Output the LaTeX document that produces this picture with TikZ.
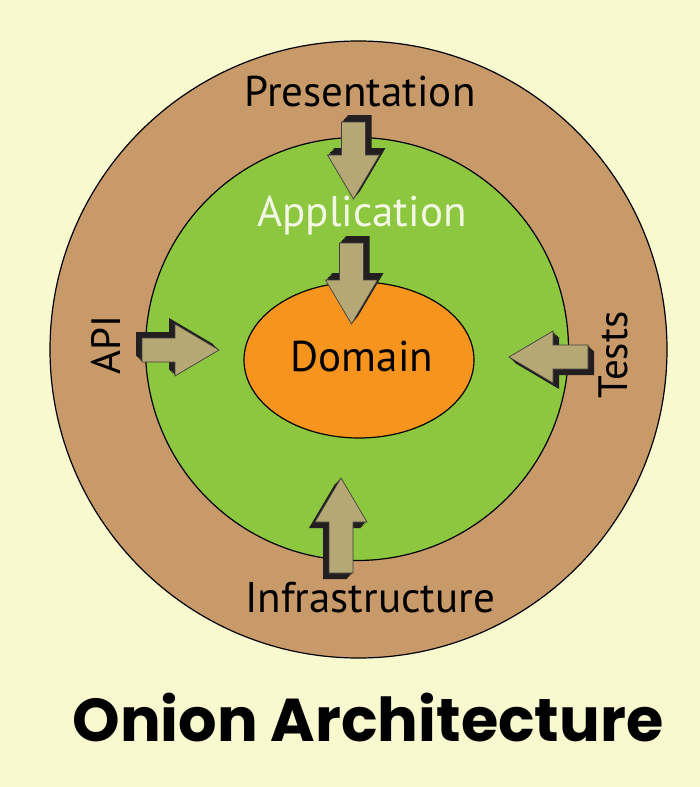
\documentclass[tikz,border=0pt]{standalone}
\usepackage{fontspec}
\setmainfont{PT Sans}
\newfontfamily\titlefont{Poppins}
\usepackage{tikz}
\usetikzlibrary{shapes.geometric}

\definecolor{bgyellow}{HTML}{F9F9D0}
\definecolor{ringtan}{HTML}{C89A6A}
\definecolor{appgreen}{HTML}{8DC63F}
\definecolor{domorange}{HTML}{F7941D}
\definecolor{arrowkhaki}{HTML}{B5A874}
\definecolor{shadowdark}{HTML}{231F20}
\definecolor{apptext}{HTML}{F2F8E4}

% block arrow pointing along +x, tail at the origin
\newcommand{\arrowpath}[1]{(0,-12) -- (#1,-12) -- (#1,-26) -- ({#1+44},0) -- (#1,26) -- (#1,12) -- (0,12) -- cycle}
% #1,#2 tail, #3 direction, #4 shaft length, #5,#6 shadow offset
\newcommand{\layerarrow}[6]{%
    \foreach \t in {0.2,0.4,...,1.0}
        \fill[arrowshadow, shift={({#1+\t*(#5)},{#2+\t*(#6)})}, rotate=#3] \arrowpath{#4};
    \filldraw[arrowbody, shift={(#1,#2)}, rotate=#3] \arrowpath{#4};
}

\begin{document}
\begin{tikzpicture}[x=1pt, y=-1pt,
        layer/.style={circle, draw=black, line width=1.2pt, inner sep=0pt},
        label/.style={font=\fontsize{43}{50}\selectfont, inner sep=0pt},
        sidelabel/.style={font=\fontsize{41}{48}\selectfont, inner sep=0pt, rotate=90},
        arrowbody/.style={fill=arrowkhaki, draw=black!75, line width=0.7pt, line join=miter},
        arrowshadow/.style={fill=shadowdark}
    ]
        \fill[bgyellow] (0,0) rectangle (700,787);
        \useasboundingbox (0,0) rectangle (700,787);

        % Layers
        \node[layer, fill=ringtan, minimum size=617pt] (outer) at (358.5,349.5) {};
        \node[layer, fill=appgreen, minimum size=423pt] (app) at (357,349) {};
        \node[layer, ellipse, fill=domorange, minimum width=230pt, minimum height=156pt] (domain) at (359,360) {};

        % Labels
        \node[label] (pres) at (360,92) {Presentation};
        \node[label, text=apptext] (appl) at (362,216) {Application};
        \node[label] (dom) at (362,357) {Domain};
        \node[sidelabel] (api) at (106,345) {API};
        \node[sidelabel] (tests) at (613,355) {Tests};
        \node[label] (infra) at (370,598) {Infrastructure};

        % Arrows
        \layerarrow{353.5}{122}{-90}{33}{6}{-7}
        \layerarrow{351.5}{243}{-90}{37}{6}{-7}
        \layerarrow{142}{350}{0}{33}{-6}{-6}
        \layerarrow{588}{357}{180}{35}{6}{6}
        \layerarrow{341}{573}{90}{51}{-6}{6}

        % Title
        \node[font=\titlefont\bfseries\fontsize{60.5}{68}\selectfont, inner sep=0pt] (title) at (368,718) {Onion Architecture};
    \end{tikzpicture}
\end{document}
